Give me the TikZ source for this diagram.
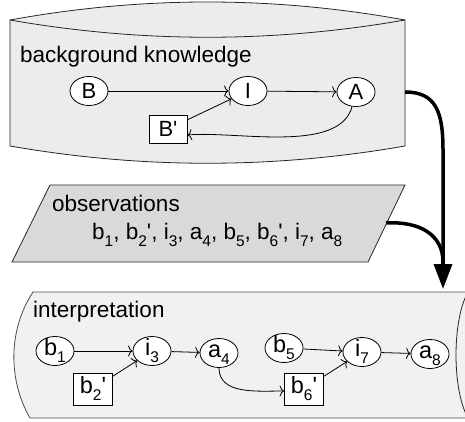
\documentclass[tikz,border=0pt]{standalone}
\usepackage{fontspec}
\setmainfont{Liberation Sans}
\usetikzlibrary{shapes.geometric,arrows.meta}
\newcommand\sbs[1]{\raisebox{-0.32em}{\fontsize{15.5}{15.5}\selectfont #1}}
\newcommand\pr{\textquotesingle}
\definecolor{topfill}{gray}{0.925}
\definecolor{obsfill}{gray}{0.85}
\definecolor{intfill}{gray}{0.945}
\tikzset{
  shapeline/.style={draw=black!85, line width=0.8pt},
  elltop/.style={ellipse, draw, fill=white, line width=0.8pt, minimum width=38pt, minimum height=29pt, inner sep=0pt, font=\fontsize{22}{22}\selectfont, text height=15pt, text depth=0pt},
  recttop/.style={rectangle, draw, fill=white, line width=0.8pt, minimum width=38pt, minimum height=28pt, inner sep=0pt, font=\fontsize{22}{22}\selectfont, text height=15pt, text depth=0pt},
  ellbot/.style={ellipse, draw, fill=white, line width=0.8pt, minimum width=38pt, minimum height=29pt, inner sep=0pt, font=\fontsize{23.5}{23.5}\selectfont, text height=13pt, text depth=5pt},
  rectbot/.style={rectangle, draw, fill=white, line width=0.8pt, minimum width=39pt, minimum height=32pt, inner sep=0pt, font=\fontsize{23.5}{23.5}\selectfont, text height=17pt, text depth=9pt},
  lbl/.style={inner sep=0pt, anchor=base west, font=\fontsize{22.5}{26}\selectfont},
  conn/.style={-{To[length=4.5pt,width=11pt]}, line width=0.8pt},
  bigarrow/.style={line width=3.5pt, black},
}
\begin{document}
\begin{tikzpicture}[x=1pt,y=-1pt]
\useasboundingbox (0,0) rectangle (465,422);
\clip (0,0) rectangle (465,422);
% background knowledge shape
\path[fill=topfill] (10,20) .. controls (142,-4) and (273,-4) .. (405,20) -- (405,146)
  .. controls (273,169) and (142,169) .. (10,146) -- cycle;
\draw[shapeline] (10,20) .. controls (142,-4) and (273,-4) .. (405,20) -- (405,146)
  .. controls (273,169) and (142,169) .. (10,146) -- cycle;
\draw[shapeline] (10,20) .. controls (142,43) and (273,43) .. (405,20);
% observations
\draw[shapeline, fill=obsfill] (50,185) -- (405,185) -- (368,262) -- (12,262) -- cycle;
% interpretation
\path[fill=intfill] (33,292) -- (470,292) -- (470,418) -- (30,418) .. controls (8,380) and (8,330) .. (33,292) -- cycle;
\draw[draw=black!70, line width=0.8pt] (470,292) -- (33,292) .. controls (8,330) and (8,380) .. (30,418) -- (470,418);
\draw[draw=black!85, line width=0.8pt] (468,292) .. controls (452,320) and (452,390) .. (468,418);

% labels
\node[lbl] (bk) at (20,63) {background knowledge};
\node[lbl] (obs) at (52,211) {observations};
\node[lbl] (seq) at (92,239) {b\sbs{1}, b\sbs{2}\pr, i\sbs{3}, a\sbs{4}, b\sbs{5}, b\sbs{6}\pr, i\sbs{7}, a\sbs{8}};
\node[lbl] (interp) at (33,317) {interpretation};

% background knowledge graph
\node[elltop] (B) at (89,91) {B};
\node[elltop] (I) at (248,91) {I};
\node[elltop] (A) at (356,92) {A};
\node[recttop] (Bp) at (168,129) {B\pr};
\draw[conn] (B) -- (I);
\draw[conn] (I) -- (A);
\draw[conn] (Bp) -- (I);
\draw[conn] (A.-105) to[out=-105,in=5,looseness=0.75] ([yshift=-6pt]Bp.east);

% interpretation graph
\node[ellbot] (b1) at (55,351) {b\sbs{1}};
\node[ellbot] (i3) at (152,351) {i\sbs{3}};
\node[ellbot] (a4) at (219,353) {a\sbs{4}};
\node[ellbot] (b5) at (284,348) {b\sbs{5}};
\node[ellbot] (i7) at (362,352) {i\sbs{7}};
\node[ellbot] (a8) at (430,354) {a\sbs{8}};
\node[rectbot] (b2) at (93,389) {b\sbs{2}\pr};
\node[rectbot] (b6) at (304,389) {b\sbs{6}\pr};
\draw[conn] (b1) -- (i3);
\draw[conn] (b2) -- (i3);
\draw[conn] (i3) -- (a4);
\draw[conn] (a4.south) to[out=-90,in=180] ([yshift=-2pt]b6.west);
\draw[conn] (b5) -- (i7);
\draw[conn] (b6) -- (i7);
\draw[conn] (i7) -- (a8);

% thick arrows
\coordinate (kout) at (405,92);
\coordinate (oout) at (386,223);
\coordinate (join) at (443,262);
\coordinate (iin) at (443,289);
\draw[bigarrow] (kout) .. controls (436,92) and (443,112) .. (443,150) -- (join);
\draw[bigarrow] (oout) .. controls (420,221) and (443,235) .. (join);
\draw[bigarrow, -{Triangle[length=25pt,width=18pt]}] (join) -- (iin);
\end{tikzpicture}
\end{document}
